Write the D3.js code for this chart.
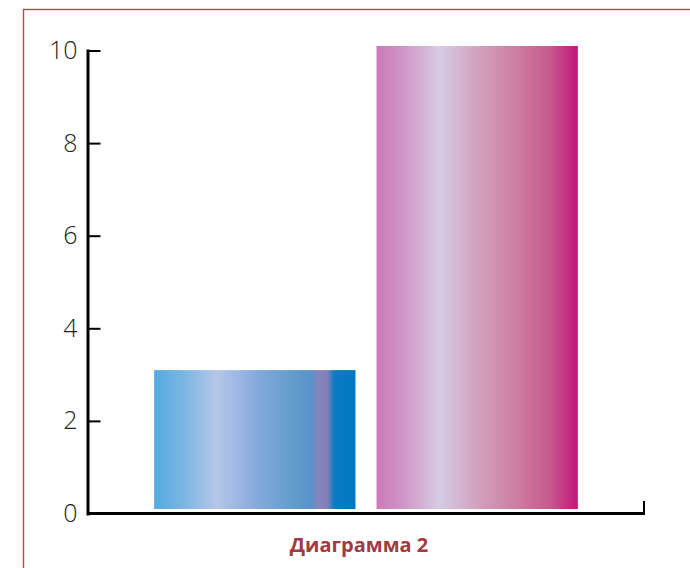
<!DOCTYPE html>
<html>
<head>
<meta charset="utf-8">
<script src="https://cdn.jsdelivr.net/npm/d3@7"></script>
<style>
  html, body { margin: 0; padding: 0; background: #fff; }
  svg { display: block; }
</style>
</head>
<body>
<svg id="chart" width="690" height="568"></svg>
<script>
const categories = ["A", "B"];
const values = [3, 10];
const yTicks = [0, 2, 4, 6, 8, 10];
const caption = "Диаграмма 2";

const gradients = [
  [[0, "#52aae2"], [0.15, "#7cb6e2"], [0.31, "#b6c6e8"], [0.5, "#88aadc"], [0.7, "#5e9ccc"], [0.78, "#5a92c8"], [0.82, "#8884bc"], [0.86, "#8280b8"], [0.895, "#0a7ac4"], [1, "#0078c0"]],
  [[0, "#cc7ab6"], [0.14, "#d096c8"], [0.31, "#d6cce4"], [0.5, "#d2a2bf"], [0.7, "#cd7ca2"], [0.86, "#c65a8c"], [1, "#c2177a"]]
];

const svg = d3.select("#chart");

// frame
svg.append("rect")
  .attr("x", 23.5).attr("y", 9.5)
  .attr("width", 700).attr("height", 600)
  .attr("fill", "none")
  .attr("stroke", "#b9474c")
  .attr("stroke-width", 1.4);

const defs = svg.append("defs");
gradients.forEach((stops, i) => {
  const g = defs.append("linearGradient")
    .attr("id", "grad" + i)
    .attr("x1", "0%").attr("x2", "100%").attr("y1", "0%").attr("y2", "0%");
  stops.forEach(s => g.append("stop").attr("offset", s[0]).attr("stop-color", s[1]));
});

const x = d3.scaleBand()
  .domain(categories)
  .range([87, 645])
  .paddingInner(0.0946)
  .paddingOuter(0.302);

const y = d3.scaleLinear().domain([0, 10]).range([513.5, 50.5]);

const barGap = 4.5;

svg.append("g").selectAll("rect")
  .data(values)
  .join("rect")
  .attr("x", (d, i) => x(categories[i]))
  .attr("width", x.bandwidth())
  .attr("y", d => y(d) - barGap)
  .attr("height", d => y(0) - y(d))
  .attr("fill", (d, i) => `url(#grad${i})`);

// y axis
const yAxis = svg.append("g")
  .attr("transform", "translate(87.5,0)")
  .call(d3.axisLeft(y).tickValues(yTicks).tickSizeInner(-13).tickSizeOuter(0).tickPadding(10));

yAxis.select(".domain").attr("stroke", "#000").attr("stroke-width", 3).attr("stroke-linecap", "square");
yAxis.selectAll(".tick line").attr("stroke", "#000").attr("stroke-width", 2);
yAxis.selectAll(".tick text")
  .attr("font-family", "'Open Sans', sans-serif")
  .attr("font-size", 25)
  .attr("font-weight", 300)
  .attr("fill", "#222");

// x axis
const [x0, x1] = x.range();
svg.append("line")
  .attr("x1", x0).attr("x2", x1)
  .attr("y1", y(0)).attr("y2", y(0))
  .attr("stroke", "#000").attr("stroke-width", 3);
svg.append("line")
  .attr("x1", x1 - 1).attr("x2", x1 - 1)
  .attr("y1", y(0) + 1).attr("y2", y(0) - 12.5)
  .attr("stroke", "#000").attr("stroke-width", 2);

svg.append("text")
  .attr("x", (x0 + x1) / 2 - 7)
  .attr("y", 552)
  .attr("text-anchor", "middle")
  .attr("font-family", "'Open Sans', sans-serif")
  .attr("font-weight", "bold")
  .attr("font-size", 20)
  .attr("fill", "#a23a3e")
  .text(caption);
</script>
</body>
</html>
